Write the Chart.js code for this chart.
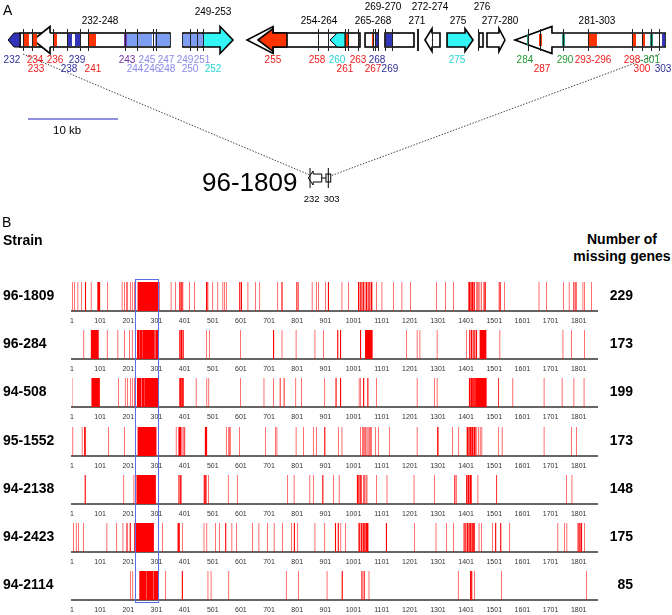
<!DOCTYPE html>
<html>
<head>
<meta charset="utf-8">
<script src="https://cdn.jsdelivr.net/npm/chart.js@4.4.1/dist/chart.umd.min.js"></script>
<style>
html, body { margin: 0; padding: 0; background: #fff; }
#page { position: relative; width: 672px; height: 615px; overflow: hidden; font-family: 'Liberation Sans', Arial, sans-serif; color: #000; }
canvas { position: absolute; left: 0; }
.t { position: absolute; white-space: nowrap; line-height: 1; transform: translateY(-50%); }
.b { font-weight: bold; font-size: 14px; }
#hl { position: absolute; border: 1.5px solid #5a6fe6; box-sizing: border-box; pointer-events: none; }
</style>
</head>
<body>
<div id="page">
  <canvas id="map" width="672" height="215" style="top:0"></canvas>
  <div class="t" style="left:3px;top:10px;font-size:14px">A</div>
  <div class="t" style="left:2px;top:222px;font-size:14px">B</div>
  <div class="t" style="left:53px;top:131px;font-size:11.5px">10 kb</div>
  <div class="t" style="left:202px;top:182px;font-size:26px">96-1809</div>
  <div class="t b" style="left:3px;top:240px">Strain</div>
  <div class="t b" style="left:572px;width:100px;text-align:center;top:248px;line-height:17px">Number of<br>missing genes</div>
</div>
<script>
// ---- Panel B data: gene index of each missing gene (single or [from, to]) ----
const strains = ['96-1809', '96-284', '94-508', '95-1552', '94-2138', '94-2423', '94-2114'];
const missingCounts = [229, 173, 199, 173, 148, 175, 85];
const geneTicks = [1, 101, 201, 301, 401, 501, 601, 701, 801, 901, 1001, 1101, 1201, 1301, 1401, 1501, 1601, 1701, 1801];
const geneMax = 1866;
const highlightGenes = [232, 303];

const miss96_1809 = [2, 10, 22, 34, [48,50], 69, [92,100], 128, 179, 188, 194, 199, 208, 215, 223, [235,306], 312, 353, 369,
  [383,384], 387, [390,391], [394,395], 419, 436, [478,480], [483,484], 501, 519, 537, 543, 549, [596,598], [602,604], 626,
  653, 668, 732, [746,748], [799,801], 805, 854, 869, 877, 902, [911,913], 960, 983, [1018,1020], [1024,1026], [1030,1032],
  [1036,1038], 1042, [1046,1048], [1052,1054], [1058,1060], [1064,1067], 1082, 1102, 1143, 1173, 1204, 1295, 1328, 1356,
  [1410,1414], [1417,1420], [1423,1426], [1429,1431], 1437, 1441, 1446, 1450, 1455, [1464,1466], [1469,1470], [1518,1519],
  [1522,1523], 1538, 1660, 1686, 1747, 1767, [1783,1784], [1788,1789], 1793, 1816, 1822, 1846];
const miss96_284 = [43, [69,95], 126, 164, 188, 205, 215, [233,240], [242,250], [252,294], [298,306], [383,386], [389,392],
  [395,397], 478, 490, 599, [716,718], 747, 797, 864, 895, [944,946], [954,956], [1025,1027], [1043,1068], 1189, 1227, 1237,
  1298, 1402, [1413,1415], [1419,1421], [1425,1427], [1431,1433], [1437,1439], [1450,1472], 1521, 1745, 1775, 1822];
const miss94_508 = [1, [71,99], 166, 190, 199, 208, 215, 223, [233,246], [249,258], [260,306], [383,387], [390,394], [396,397],
  442, 480, 487, 599, 683, 717, [740,741], [754,755], 796, 816, 899, [938,940], [954,956], 1021, 1026, [1036,1038],
  [1051,1053], 1082, 1227, 1288, 1298, [1412,1416], [1419,1424], [1427,1431], [1434,1473], [1516,1517], 1567, 1678, 1742,
  1784, 1820];
const miss95_1552 = [4, 37, [45,49], 131, 188, [235,300], 371, [380,389], [395,396], [401,402], [474,480], 549, [558,559],
  [562,563], 596, 689, 724, 729, 797, 823, 858, 869, [898,900], 948, 960, 1026, 1033, 1037, [1041,1042], 1045, 1049, 1053,
  1057, 1061, 1064, 1079, 1090, 1128, 1227, [1299,1302], 1352, 1375, [1404,1407], [1410,1413], [1416,1420], [1423,1426],
  [1429,1434], 1439, 1446, 1451, 1457, 1517, 1529, 1678, 1775, 1793];
const miss94_2138 = [[47,49], 185, 221, [231,298], [380,382], [386,389], [470,472], [475,478], 486, 556, 588, 767, 790, 846,
  858, [891,893], 930, 950, [1014,1016], [1019,1021], [1024,1026], [1028,1029], [1037,1038], [1041,1042], [1048,1049], 1082,
  1120, 1216, 1288, [1360,1361], [1365,1366], [1402,1405], [1408,1412], [1415,1420], 1443, [1509,1510], 1757, 1777];
const miss94_2423 = [6, 16, 24, 42, 125, 160, 182, 194, 199, [207,209], [223,291], 322, [377,380], [382,383], 393, 470, 480,
  510, 525, [546,548], 569, 585, 642, 665, 696, 719, 749, 780, [790,792], 803, 864, 899, [936,938], [946,948], 956, 972, 1018,
  [1022,1024], [1028,1030], [1034,1037], [1040,1043], [1046,1053], [1117,1119], 1217, 1294, 1332, 1357, [1393,1395],
  [1399,1401], [1405,1408], [1411,1413], [1416,1419], [1422,1424], [1427,1431], 1447, 1455, 1494, [1505,1507], [1523,1525],
  1556, 1727, 1751, 1759, [1798,1800], [1804,1806], [1809,1812], 1822];
const miss94_2114 = [209, 217, [241,263], [266,290], [293,306], 334, [392,394], 484, 495, 558, 762, 806, 907, [960,962],
  [1030,1032], [1038,1040], 1056, 1373, [1416,1418], [1420,1422], 1431, 1527, 1828];
const missingGenes = [miss96_1809, miss96_284, miss94_508, miss95_1552, miss94_2138, miss94_2423, miss94_2114];

// ---- Panel A data: positions along the region in kb ----
const mapBoxes = [[1.33, 18.0], [19.44, 21.67], [29.44, 39.11], [39.67, 41.11], [41.89, 45.11], [52.33, 52.78]];
// [leftKb, rightKb, headKb, direction, kind, group]
const mapArrows = [
  [0, 1.33, 0.67, 'L', 'small', 'blue'],
  [2.78, 4.67, 1.89, 'L', 'head', 'white'],
  [21.67, 25.0, 1.44, 'R', 'wide', 'cyan'],
  [26.56, 29.44, 2.89, 'L', 'head', 'white'],
  [27.78, 31.0, 1.67, 'L', 'mid', 'red'],
  [35.78, 37.44, 0.78, 'L', 'small', 'cyan'],
  [46.33, 48.0, 0.78, 'L', 'mid', 'white'],
  [48.78, 51.67, 0.89, 'R', 'mid', 'cyan'],
  [53.22, 55.22, 0.67, 'R', 'mid', 'white'],
  [56.33, 73.0, 4.11, 'L', 'wide', 'white'],
];
const mapBlocks = [
  [1.67, 2.33, 'red'], [2.67, 3.22, 'red'], [5.0, 5.44, 'red'], [6.56, 7.11, 'blue'], [7.44, 8.0, 'blue'], [8.89, 9.78, 'red'],
  [12.89, 13.22, 'purple'], [13.22, 14.33, 'lblue'], [14.44, 16.0, 'lblue'], [16.33, 18.0, 'lblue'], [19.44, 21.67, 'lblue'],
  [37.44, 37.78, 'red'], [40.44, 40.6, 'red'], [40.78, 41.11, 'blue'], [41.89, 42.67, 'blue'],
  [57.67, 57.89, 'green'], [59.0, 59.33, 'red'], [61.56, 61.89, 'green'], [64.44, 65.44, 'red'], [69.33, 69.78, 'red'],
  [70.44, 70.78, 'red'], [71.33, 71.67, 'green'], [72.67, 73.0, 'blue'],
];
const mapTicks = [1.67, 2.67, 5.0, 6.56, 8.0, 8.89, 13.0, 14.33, 16.11, 16.44, 20.22, 21.0, 21.67, 34.44, 35.56, 37.44, 37.78,
  38.89, 40.56, 40.78, 41.11, 41.89, 42.67, 45.4, 45.5, 47.11, 52.22, 57.78, 59.11, 61.67, 64.44, 69.33, 70.44, 71.44, 72.33];
// [text, kb, tier]
const mapTopLabels = [['232-248', 10.22, 0], ['249-253', 22.78, 1], ['254-264', 34.56, 0], ['265-268', 40.56, 0],
  ['269-270', 41.67, 2], ['271', 45.44, 0], ['272-274', 46.89, 2], ['275', 50.0, 0], ['276', 52.67, 2],
  ['277-280', 54.67, 0], ['281-303', 65.44, 0]];
// [text, kb, row, group]
const mapNumLabels = [
  ['232', 0.44, 0, 'blue'], ['234', 3.0, 0, 'red'], ['236', 5.22, 0, 'red'], ['239', 7.67, 0, 'blue'], ['243', 13.22, 0, 'purple'],
  ['245', 15.44, 0, 'lblue'], ['247', 17.56, 0, 'lblue'], ['249', 19.67, 0, 'lblue'], ['251', 21.56, 0, 'lblue'],
  ['233', 3.11, 1, 'red'], ['238', 6.78, 1, 'blue'], ['241', 9.44, 1, 'red'], ['244', 14.11, 1, 'lblue'], ['246', 16.0, 1, 'lblue'],
  ['248', 17.67, 1, 'lblue'], ['250', 20.22, 1, 'lblue'], ['252', 22.78, 1, 'cyan'],
  ['255', 29.44, 0, 'red'], ['258', 34.33, 0, 'red'], ['260', 36.56, 0, 'cyan'], ['263', 38.89, 0, 'red'], ['268', 41.0, 0, 'blue'],
  ['275', 49.89, 0, 'cyan'], ['261', 37.44, 1, 'red'], ['267', 40.56, 1, 'red'], ['269', 42.44, 1, 'blue'],
  ['284', 57.44, 0, 'green'], ['290', 61.89, 0, 'green'], ['293-296', 65.0, 0, 'red'], ['298', 69.33, 0, 'red'], ['-301', 71.33, 0, 'green'],
  ['287', 59.33, 1, 'red'], ['300', 70.44, 1, 'red'], ['303', 72.78, 1, 'blue'],
];
const scaleBarKb = 10;
const scaleBarStart = 2.22;
const zoomLinks = [[1.67, 33.8], [72.4, 35.8]];   // map kb -> small glyph kb

// ---- Layout / style ----
const FONT = "'Liberation Sans', Arial, sans-serif";
const mapRowY = 40, linkTopY = 54, iconY = 178, scaleBarY = 119;
const tierY = [21, 12, 7], numRowY = [60, 69];
const bodyH = 7, wings = { small: 7, mid: 11.5, wide: 13.5, head: 13.5 };
const fills = { red: '#ff3300', blue: '#3434b8', purple: '#7f3fc0', lblue: '#7d9ef0', cyan: '#33f5f5', green: '#1f9f7f', white: '#ffffff' };
const inks = { red: '#ee1c1c', blue: '#2e2e99', purple: '#7030a0', lblue: '#8a8aea', cyan: '#2ad4d4', green: '#229933' };
const baseline0 = 311, pitch = 48.2, barH = 29, axisH = 18;

function arrowPath(ctx, a, b, hl, dir, cy, h, w, open) {
  ctx.beginPath();
  if (dir === 'L') {
    const k = a + hl;
    if (open) { ctx.moveTo(k, cy - h); ctx.lineTo(k, cy - w); ctx.lineTo(a, cy); ctx.lineTo(k, cy + w); ctx.lineTo(k, cy + h); return; }
    ctx.moveTo(a, cy); ctx.lineTo(k, cy - w); ctx.lineTo(k, cy - h); ctx.lineTo(b, cy - h);
    ctx.lineTo(b, cy + h); ctx.lineTo(k, cy + h); ctx.lineTo(k, cy + w);
  } else {
    const k = b - hl;
    ctx.moveTo(b, cy); ctx.lineTo(k, cy - w); ctx.lineTo(k, cy - h); ctx.lineTo(a, cy - h);
    ctx.lineTo(a, cy + h); ctx.lineTo(k, cy + h); ctx.lineTo(k, cy + w);
  }
  ctx.closePath();
}

const mapDraw = {
  id: 'mapDraw',
  afterDatasetsDraw(chart) {
    const { ctx, scales: { x, y } } = chart;
    const px = v => x.getPixelForValue(v);
    const cy = y.getPixelForValue(mapRowY);
    ctx.save();
    ctx.strokeStyle = '#000';
    ctx.lineJoin = 'miter';
    // contig boxes
    ctx.lineWidth = 1.6;
    mapBoxes.forEach(([a, b]) => {
      ctx.fillStyle = '#fff';
      ctx.fillRect(px(a), cy - bodyH, px(b) - px(a), 2 * bodyH);
      ctx.strokeRect(px(a), cy - bodyH, px(b) - px(a), 2 * bodyH);
    });
    // gene arrows
    mapArrows.forEach(([a, b, hl, dir, kind, g]) => {
      const pa = px(a), pb = px(b), phl = px(a + hl) - pa;
      const w = wings[kind];
      ctx.lineWidth = kind === 'small' ? 1 : 1.6;
      arrowPath(ctx, pa, pb, phl, dir, cy, bodyH, w, false);
      ctx.fillStyle = fills[g];
      ctx.fill();
      if (kind === 'head') arrowPath(ctx, pa, pb, phl, dir, cy, bodyH, w, true);
      ctx.stroke();
    });
    // coloured genes inside contigs
    mapBlocks.forEach(([a, b, g]) => {
      ctx.fillStyle = fills[g];
      ctx.fillRect(px(a), cy - bodyH + 1, px(b) - px(a), 2 * bodyH - 2);
    });
    // gene boundary ticks
    ctx.lineWidth = 1;
    ctx.strokeStyle = '#222';
    mapTicks.forEach(k => {
      const p = Math.round(px(k)) + 0.5;
      ctx.beginPath(); ctx.moveTo(p, cy - 11); ctx.lineTo(p, cy + 11); ctx.stroke();
    });
    // labels
    ctx.textAlign = 'center';
    ctx.textBaseline = 'middle';
    ctx.font = '10px ' + FONT;
    ctx.fillStyle = '#000';
    mapTopLabels.forEach(([t, k, tier]) => ctx.fillText(t, px(k), y.getPixelForValue(tierY[tier])));
    mapNumLabels.forEach(([t, k, row, g]) => {
      ctx.fillStyle = inks[g];
      ctx.fillText(t, px(k), y.getPixelForValue(numRowY[row]));
    });
    // small glyph of the whole region next to the strain name
    const iy = y.getPixelForValue(iconY);
    ctx.strokeStyle = '#000';
    ctx.fillStyle = '#fff';
    ctx.lineWidth = 1;
    arrowPath(ctx, px(33.37), px(34.86), px(33.9) - px(33.37), 'L', iy, 4, 7, false);
    ctx.fill(); ctx.stroke();
    ctx.beginPath(); ctx.moveTo(px(34.86), iy); ctx.lineTo(px(35.33), iy); ctx.stroke();
    ctx.strokeRect(px(35.33), iy - 4, px(35.86) - px(35.33), 8);
    [33.56, 35.59].forEach(k => { ctx.beginPath(); ctx.moveTo(px(k), iy - 10); ctx.lineTo(px(k), iy + 10); ctx.stroke(); });
    ctx.fillStyle = '#000';
    ctx.font = '9.5px ' + FONT;
    ctx.fillText('232', px(33.74), y.getPixelForValue(199));
    ctx.fillText('303', px(35.97), y.getPixelForValue(199));
    ctx.restore();
  }
};

new Chart(document.getElementById('map'), {
  type: 'scatter',
  data: {
    datasets: [
      ...zoomLinks.map(([from, to]) => ({
        data: [{ x: from, y: linkTopY }, { x: to, y: iconY - 2 }],
        showLine: true, borderColor: '#444', borderWidth: 1, borderDash: [1.5, 1.5], pointRadius: 0
      })),
      {
        data: [{ x: scaleBarStart, y: scaleBarY }, { x: scaleBarStart + scaleBarKb, y: scaleBarY }],
        showLine: true, borderColor: '#6a6ad2', borderWidth: 1.5, pointRadius: 0
      }
    ]
  },
  options: {
    responsive: false, animation: false, events: [],
    layout: { padding: 0 },
    scales: {
      x: { type: 'linear', display: false, min: -8 / 9, max: 664 / 9 },
      y: { type: 'linear', display: false, min: 0, max: 215, reverse: true }
    },
    plugins: { legend: { display: false }, tooltip: { enabled: false } }
  },
  plugins: [mapDraw]
});

// ---- Panel B tracks ----
const page = document.getElementById('page');
function toBars(list) {
  return list.map(g => {
    const [s, e] = Array.isArray(g) ? g : [g, g];
    return { x: [s - 1, e + 1], y: 'genes' };
  });
}

const trackCharts = strains.map((name, i) => {
  const base = baseline0 + i * pitch;
  const cv = document.createElement('canvas');
  cv.width = 672; cv.height = barH + axisH;
  cv.style.top = (base - barH) + 'px';
  page.appendChild(cv);

  const lab = document.createElement('div');
  lab.className = 't b'; lab.style.left = '3px'; lab.style.top = (base - 16) + 'px';
  lab.textContent = name;
  page.appendChild(lab);
  const cnt = document.createElement('div');
  cnt.className = 't b'; cnt.style.right = (672 - 633) + 'px'; cnt.style.top = (base - 16) + 'px';
  cnt.textContent = missingCounts[i];
  page.appendChild(cnt);

  return new Chart(cv, {
    type: 'bar',
    data: {
      labels: ['genes'],
      datasets: [{ data: toBars(missingGenes[i]), backgroundColor: '#ff0000', borderWidth: 0, inflateAmount: 0,
                   barPercentage: 1, categoryPercentage: 1 }]
    },
    options: {
      indexAxis: 'y', responsive: false, animation: false, events: [],
      layout: { padding: { left: 72, right: 75, top: 0, bottom: 0 } },
      scales: {
        x: {
          type: 'linear', min: 1, max: geneMax,
          grid: { display: false, drawTicks: false },
          border: { display: true, color: '#666', width: 2 },
          afterBuildTicks: s => { s.ticks = geneTicks.map(v => ({ value: v })); },
          afterFit: s => { s.height = axisH; },
          ticks: { autoSkip: false, maxRotation: 0, padding: 6, color: '#333', callback: v => String(v),
                   font: { family: "'Liberation Sans Narrow', 'Liberation Sans', Arial, sans-serif", size: 7 } }
        },
        y: { display: false }
      },
      plugins: { legend: { display: false }, tooltip: { enabled: false } }
    }
  });
});

// highlight box over genes 232-303 in every strain
const xs = trackCharts[0].scales.x;
const hl = document.createElement('div');
hl.id = 'hl';
const left = xs.getPixelForValue(highlightGenes[0]) - 2, right = xs.getPixelForValue(highlightGenes[1]) + 2;
hl.style.left = left + 'px';
hl.style.width = (right - left) + 'px';
hl.style.top = (baseline0 - barH - 3) + 'px';
hl.style.height = ((strains.length - 1) * pitch + barH + 6) + 'px';
page.appendChild(hl);
</script>
</body>
</html>
